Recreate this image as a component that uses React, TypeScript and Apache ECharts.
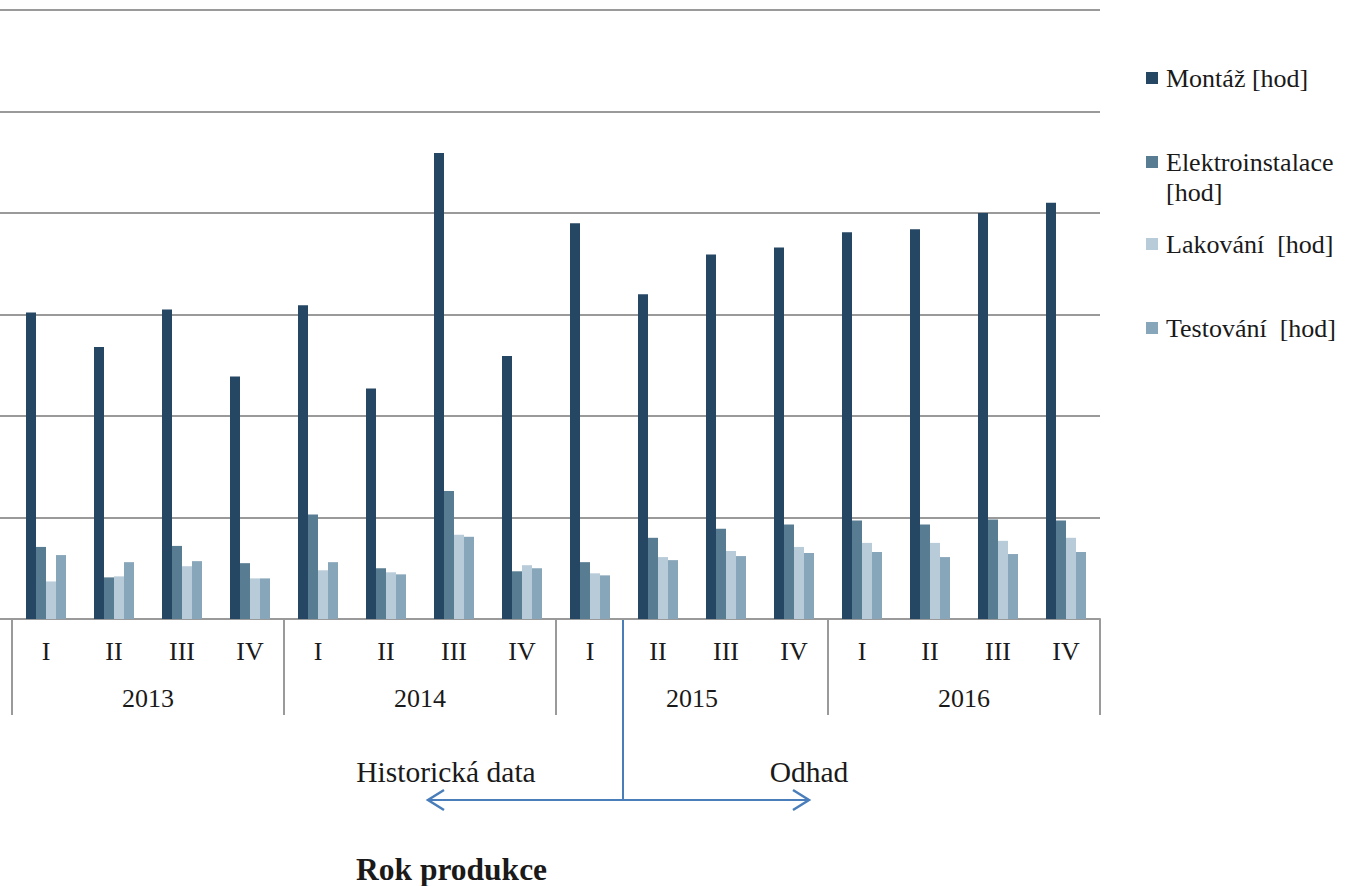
import React, { useEffect, useRef } from "react";
import * as echarts from "echarts";

// Quarters and production years
const quarters = ["I", "II", "III", "IV", "I", "II", "III", "IV", "I", "II", "III", "IV", "I", "II", "III", "IV"];
const years = ["2013", "2014", "2015", "2016"];

// Hours per quarter for each activity
const montaz = [302, 268, 305, 239, 309, 227, 459, 259, 390, 320, 359, 366, 381, 384, 400, 410];
const elektroinstalace = [71, 41, 72, 55, 103, 50, 126, 47, 56, 80, 89, 93, 97, 93, 98, 97];
const lakovani = [37, 42, 52, 40, 48, 46, 83, 53, 45, 61, 67, 71, 75, 75, 77, 80];
const testovani = [63, 56, 57, 40, 56, 44, 81, 50, 43, 58, 62, 65, 66, 61, 64, 66];

const seriesNames = ["Montáž [hod]", "Elektroinstalace [hod]", "Lakování  [hod]", "Testování  [hod]"];
const legendLabels = ["Montáž [hod]", "Elektroinstalace\n[hod]", "Lakování  [hod]", "Testování  [hod]"];
const seriesData = [montaz, elektroinstalace, lakovani, testovani];
const seriesColors = ["#264763", "#587c91", "#b8cbd9", "#88a6ba"];

const FONT = "Liberation Serif";
const TEXT = "#1a1a1a";
const GRIDLINE = "#9a9a9a";
const BLUE = "#4a7ebb";

export default function App() {
  const ref = useRef<HTMLDivElement>(null);

  useEffect(() => {
    if (!ref.current) return;
    const chart = echarts.init(ref.current, undefined, { renderer: "svg" });

    const valueAxis = (gridIndex: number) => ({
      type: "value" as const,
      gridIndex,
      min: 0,
      max: 600,
      interval: 100,
      axisLabel: { show: false },
      axisLine: { show: false },
      axisTick: { show: false },
      splitLine: { show: true, lineStyle: { color: GRIDLINE, width: 2 } },
    });

    // Legend entries: square swatch plus label, each text line 30px apart,
    // the first line centred on the swatch
    const legendRows = [78, 162, 244, 328];
    const legendGraphics = legendLabels.flatMap((label, i) => [
      {
        type: "rect",
        shape: { x: 1146, y: legendRows[i] - 6, width: 12, height: 12 },
        style: { fill: seriesColors[i] },
      },
      ...label.split("\n").map((line, j) => ({
        type: "text",
        x: 1166,
        y: legendRows[i] + j * 30,
        style: { text: line, fill: TEXT, fontSize: 26, fontFamily: FONT, align: "left", verticalAlign: "middle" },
      })),
    ]);

    chart.setOption({
      animation: false,
      backgroundColor: "#ffffff",
      textStyle: { fontFamily: FONT },
      grid: [
        { left: 12, right: 246, top: 10, bottom: 267 },
        { left: 0, width: 12, top: 10, bottom: 267 },
      ],
      xAxis: [
        {
          type: "category",
          gridIndex: 0,
          position: "bottom",
          data: quarters,
          axisLine: { show: true, lineStyle: { color: GRIDLINE, width: 2 } },
          axisTick: { show: false },
          axisLabel: { color: TEXT, fontSize: 26, fontFamily: FONT, margin: 19, interval: 0 },
        },
        {
          type: "category",
          gridIndex: 0,
          position: "bottom",
          data: years,
          axisLine: { show: false },
          axisTick: { show: true, length: 96, interval: 0, lineStyle: { color: GRIDLINE, width: 2 } },
          axisLabel: { color: TEXT, fontSize: 26, fontFamily: FONT, margin: 66, interval: 0 },
        },
        {
          type: "category",
          gridIndex: 1,
          data: [""],
          axisLine: { show: true, lineStyle: { color: GRIDLINE, width: 2 } },
          axisTick: { show: false },
          axisLabel: { show: false },
        },
      ],
      yAxis: [valueAxis(0), valueAxis(1)],
      series: seriesNames.map((name, i) => ({
        name,
        type: "bar",
        xAxisIndex: 0,
        yAxisIndex: 0,
        data: seriesData[i],
        barWidth: 10,
        barGap: "0%",
        itemStyle: { color: seriesColors[i] },
      })),
      graphic: [
        ...legendGraphics,
        { type: "line", shape: { x1: 623, y1: 620, x2: 623, y2: 800 }, style: { stroke: BLUE, lineWidth: 2 } },
        { type: "line", shape: { x1: 428, y1: 800, x2: 809, y2: 800 }, style: { stroke: BLUE, lineWidth: 2 } },
        {
          type: "polyline",
          shape: { points: [[444, 790], [428, 800], [444, 810]] },
          style: { stroke: BLUE, lineWidth: 2.5, fill: "none" },
        },
        {
          type: "polyline",
          shape: { points: [[793, 790], [809, 800], [793, 810]] },
          style: { stroke: BLUE, lineWidth: 2.5, fill: "none" },
        },
        {
          type: "text",
          x: 446,
          y: 772,
          style: { text: "Historická data", fill: TEXT, fontSize: 29.5, fontFamily: FONT, align: "center", verticalAlign: "middle" },
        },
        {
          type: "text",
          x: 809,
          y: 772,
          style: { text: "Odhad", fill: TEXT, fontSize: 29.5, fontFamily: FONT, align: "center", verticalAlign: "middle" },
        },
        {
          type: "text",
          x: 356,
          y: 869,
          style: { text: "Rok produkce", fill: TEXT, fontSize: 31.5, fontWeight: "bold", fontFamily: FONT, align: "left", verticalAlign: "middle" },
        },
      ],
    });

    return () => chart.dispose();
  }, []);

  return <div ref={ref} style={{ position: "absolute", left: 0, top: 0, width: 1346, height: 886 }} />;
}
